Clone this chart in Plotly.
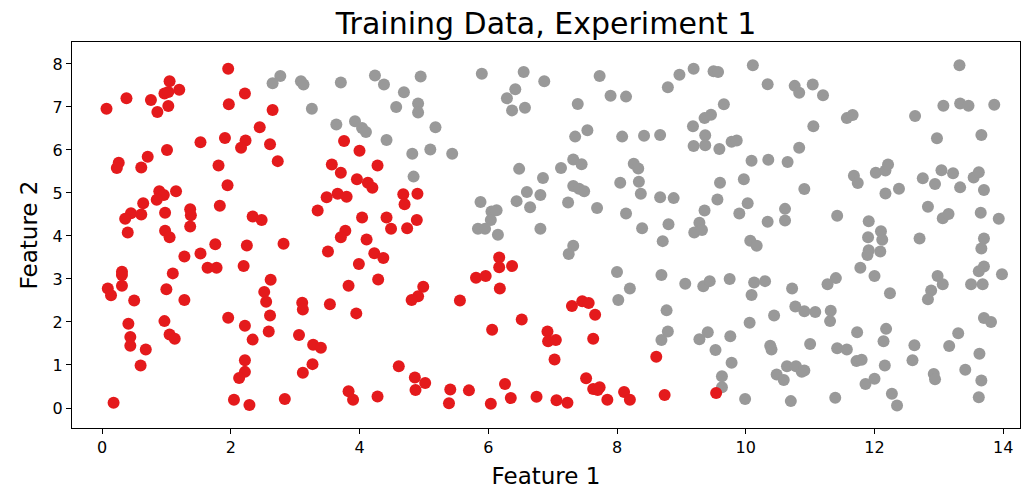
import plotly.graph_objects as go

# Class 1 (red) points
red_x = [1.96,1.05,1.20,0.97,1.03,2.22,0.38,0.76,0.07,1.97,1.03,0.86,2.65,2.45,1.53,1.91,2.23,2.16,2.61,1.01,0.71,0.26,0.23,0.61,1.81,2.73,
         3.76,4.00,4.28,3.57,3.71,
         1.95,1.15,0.89,0.96,0.85,0.64,1.83,1.37,1.38,0.98,0.45,0.36,0.61,2.34,2.48,1.37,0.40,0.98,1.05,1.76,2.25,2.82,1.28,1.53,1.64,1.78,2.20,0.31,0.31,0.31,0.09,0.14,1.10,1.00,0.50,1.28,2.62,2.52,2.55,3.11,
         3.96,4.13,4.20,3.49,3.66,3.80,3.35,4.68,4.90,4.70,4.04,4.42,4.49,4.89,4.74,3.78,3.71,4.11,3.51,4.23,4.37,3.99,4.29,3.83,4.99,4.91,4.81,5.56,3.54,6.17,6.17,6.37,5.81,5.96,6.18,
         0.41,0.44,0.44,0.68,0.60,0.18,0.97,1.05,1.13,1.96,2.22,2.34,2.61,2.59,2.22,2.22,2.13,2.05,2.29,2.84,3.12,3.06,3.12,
         3.95,3.28,3.40,3.27,6.06,6.52,4.61,4.86,5.02,4.87,3.83,3.90,4.28,5.41,5.39,5.70,6.04,6.26,6.35,6.75,
         7.30,7.46,7.56,7.66,7.63,6.92,6.93,7.05,7.03,7.52,7.63,7.73,7.70,7.85,8.11,8.20,7.06,7.23,8.61,8.74,9.54]
red_y = [7.89,7.60,7.40,7.31,7.35,7.31,7.20,7.16,6.96,7.06,7.02,6.88,6.93,6.53,6.18,6.28,6.22,6.05,6.13,6.00,5.84,5.70,5.58,5.59,5.64,5.74,
         6.21,5.98,5.64,5.66,5.47,
         5.18,5.04,5.04,4.95,4.84,4.76,4.70,4.62,4.48,4.54,4.53,4.40,4.50,4.45,4.37,4.22,4.08,4.12,3.97,3.81,3.78,3.82,3.52,3.59,3.26,3.26,3.30,3.17,3.09,2.84,2.78,2.62,3.13,2.76,2.50,2.51,2.98,2.70,2.47,2.45,
         5.32,5.24,5.12,4.90,4.98,4.91,4.59,4.97,4.98,4.74,4.43,4.43,4.17,4.37,4.18,4.12,3.97,3.92,3.64,3.60,3.49,3.35,2.99,2.84,2.82,2.60,2.51,2.50,2.41,3.50,3.27,3.30,3.03,3.07,2.78,
         1.96,1.65,1.45,1.36,0.99,0.12,2.02,1.71,1.61,2.10,1.91,1.59,2.15,1.78,1.11,0.84,0.70,0.19,0.07,0.21,2.29,1.70,0.82,
         2.20,1.47,1.40,1.02,1.82,2.06,0.97,0.71,0.58,0.42,0.39,0.19,0.27,0.43,0.11,0.41,0.10,0.56,0.23,0.26,
         2.37,2.48,2.44,2.17,1.61,1.78,1.55,1.58,1.13,0.69,0.44,0.48,0.42,0.19,0.37,0.19,0.18,0.12,1.19,0.30,0.35]

# Class 0 (grey) points
grey_x = [2.77,2.65,3.09,3.13,3.26,
          3.71,4.24,4.38,4.95,4.69,4.57,4.91,4.91,5.90,6.55,6.42,6.29,6.37,6.57,6.87,3.64,3.93,4.04,4.10,4.42,5.18,4.82,5.10,5.44,6.48,
          7.73,7.90,8.14,7.39,8.79,8.97,9.19,9.50,9.57,10.11,10.34,9.66,9.36,9.46,9.18,9.37,9.19,9.37,9.59,9.78,9.86,10.09,10.35,7.35,7.54,8.08,8.42,8.67,7.32,7.45,7.13,8.26,8.33,
          10.76,10.83,11.04,11.20,11.57,11.66,11.05,10.83,10.65,13.32,12.63,13.07,13.33,13.46,13.86,12.97,13.66,
          4.84,5.88,6.05,6.13,6.04,5.84,5.95,6.15,6.44,6.60,6.65,6.81,6.85,6.81,
          7.32,7.41,7.49,8.05,8.34,8.37,7.24,7.69,8.14,8.67,8.88,8.39,8.80,8.71,9.60,9.97,9.56,9.36,9.28,9.20,9.32,10.03,9.90,10.34,10.07,10.17,7.32,7.25,8.00,8.20,8.02,8.69,9.06,9.34,9.44,9.75,10.13,10.30,10.09,
          11.68,11.74,12.02,12.17,12.21,10.91,10.61,10.61,11.42,12.17,12.38,12.75,12.94,13.04,13.22,13.54,13.62,13.33,13.70,12.83,13.06,13.15,13.65,13.93,11.91,12.10,12.12,11.90,11.91,11.89,12.09,11.78,12.00,11.40,11.27,10.72,12.24,12.70,13.70,13.66,13.70,13.62,13.98,12.98,13.06,13.50,13.68,12.88,12.83,
          8.77,8.79,8.69,9.28,9.41,9.53,9.76,9.78,9.63,9.63,9.99,10.06,10.44,10.38,10.40,10.48,10.59,
          10.77,10.91,11.08,11.32,11.31,11.00,11.42,11.57,11.73,12.18,12.14,11.72,11.80,12.16,11.86,12.00,12.27,12.35,11.39,10.70,10.64,10.78,10.87,10.91,12.62,12.59,13.30,13.16,13.70,13.81,13.63,13.41,12.92,12.94,13.66,13.62]
grey_y = [7.72,7.55,7.60,7.52,6.96,
          7.57,7.73,7.52,7.71,7.34,7.00,7.08,6.87,7.77,7.81,7.41,7.20,6.92,6.98,7.60,6.59,6.67,6.51,6.42,6.23,6.53,5.91,6.01,5.91,5.56,
          7.72,7.26,7.24,7.07,7.46,7.75,7.89,7.83,7.81,7.97,7.53,7.06,6.74,6.82,6.55,6.34,6.09,6.11,6.02,6.19,6.22,5.75,5.77,6.31,6.46,6.31,6.33,6.35,5.78,5.67,5.58,5.68,5.57,
          7.49,7.33,7.52,7.27,6.74,6.81,6.55,6.05,5.72,7.97,6.79,7.03,7.08,7.03,7.05,6.27,6.35,
          5.38,4.79,4.57,4.60,4.37,4.17,4.17,4.03,4.81,5.02,4.67,4.95,5.35,4.17,
          5.16,5.10,5.04,5.24,5.26,4.98,4.78,4.65,4.52,4.90,4.88,4.18,4.27,3.88,5.24,5.32,4.85,4.59,4.31,4.08,4.14,4.76,4.52,4.33,3.89,3.77,3.77,3.58,3.16,2.78,2.51,3.09,2.89,2.83,2.95,3.00,2.92,2.95,2.63,
          5.40,5.23,5.47,5.52,5.66,5.09,4.63,4.36,4.47,4.99,5.10,5.34,5.21,5.53,5.46,5.36,5.48,5.13,5.07,4.68,4.41,4.51,4.54,4.40,4.34,4.11,3.91,3.97,3.67,3.56,3.64,3.26,3.07,3.02,2.88,2.78,2.67,3.94,3.94,3.71,3.29,3.18,3.11,3.07,2.88,2.88,2.88,2.73,2.53,
          2.27,1.78,1.58,1.60,1.76,1.35,1.67,1.05,0.74,0.48,0.21,1.98,2.15,1.45,1.36,0.78,0.65,
          2.36,2.25,2.23,2.26,2.02,1.49,1.39,1.36,1.76,1.84,1.55,1.09,1.12,0.99,0.56,0.68,0.33,0.06,0.24,0.16,0.97,0.97,0.84,0.87,1.46,1.11,1.74,1.44,2.09,2.00,1.26,0.89,0.79,0.67,0.64,0.25]

x_ticks = [0, 2, 4, 6, 8, 10, 12, 14]
y_ticks = [0, 1, 2, 3, 4, 5, 6, 7, 8]

FONT = "DejaVu Sans"

fig = go.Figure()
fig.add_trace(go.Scatter(x=grey_x, y=grey_y, mode="markers",
                         marker=dict(color="#999999", size=12, line=dict(width=0)),
                         showlegend=False))
fig.add_trace(go.Scatter(x=red_x, y=red_y, mode="markers",
                         marker=dict(color="#e41a1c", size=12, line=dict(width=0)),
                         showlegend=False))

axis_common = dict(showline=True, linecolor="black", linewidth=1.2, mirror=True,
                   ticks="outside", ticklen=5, tickwidth=1, tickcolor="black",
                   showgrid=False, zeroline=False, automargin=False,
                   tickfont=dict(family=FONT, size=16, color="black"))

fig.update_layout(
    width=1032, height=489,
    paper_bgcolor="white", plot_bgcolor="white",
    margin=dict(l=72, r=12, t=42, b=61),
    font=dict(family=FONT, color="black"),
    title=dict(text="Training Data, Experiment 1", x=0.5, xref="paper",
               y=1 - 23 / 489, yref="container", xanchor="center", yanchor="middle",
               font=dict(family=FONT, size=30, color="black")),
    xaxis=dict(range=[-0.466, 14.26], tickvals=x_ticks,
               title=dict(text="Feature 1", font=dict(family=FONT, size=23), standoff=14),
               **axis_common),
    yaxis=dict(range=[-0.465, 8.51], tickvals=y_ticks,
               title=dict(text="Feature 2", font=dict(family=FONT, size=23), standoff=8),
               **axis_common),
)

fig.write_html("out.html")
